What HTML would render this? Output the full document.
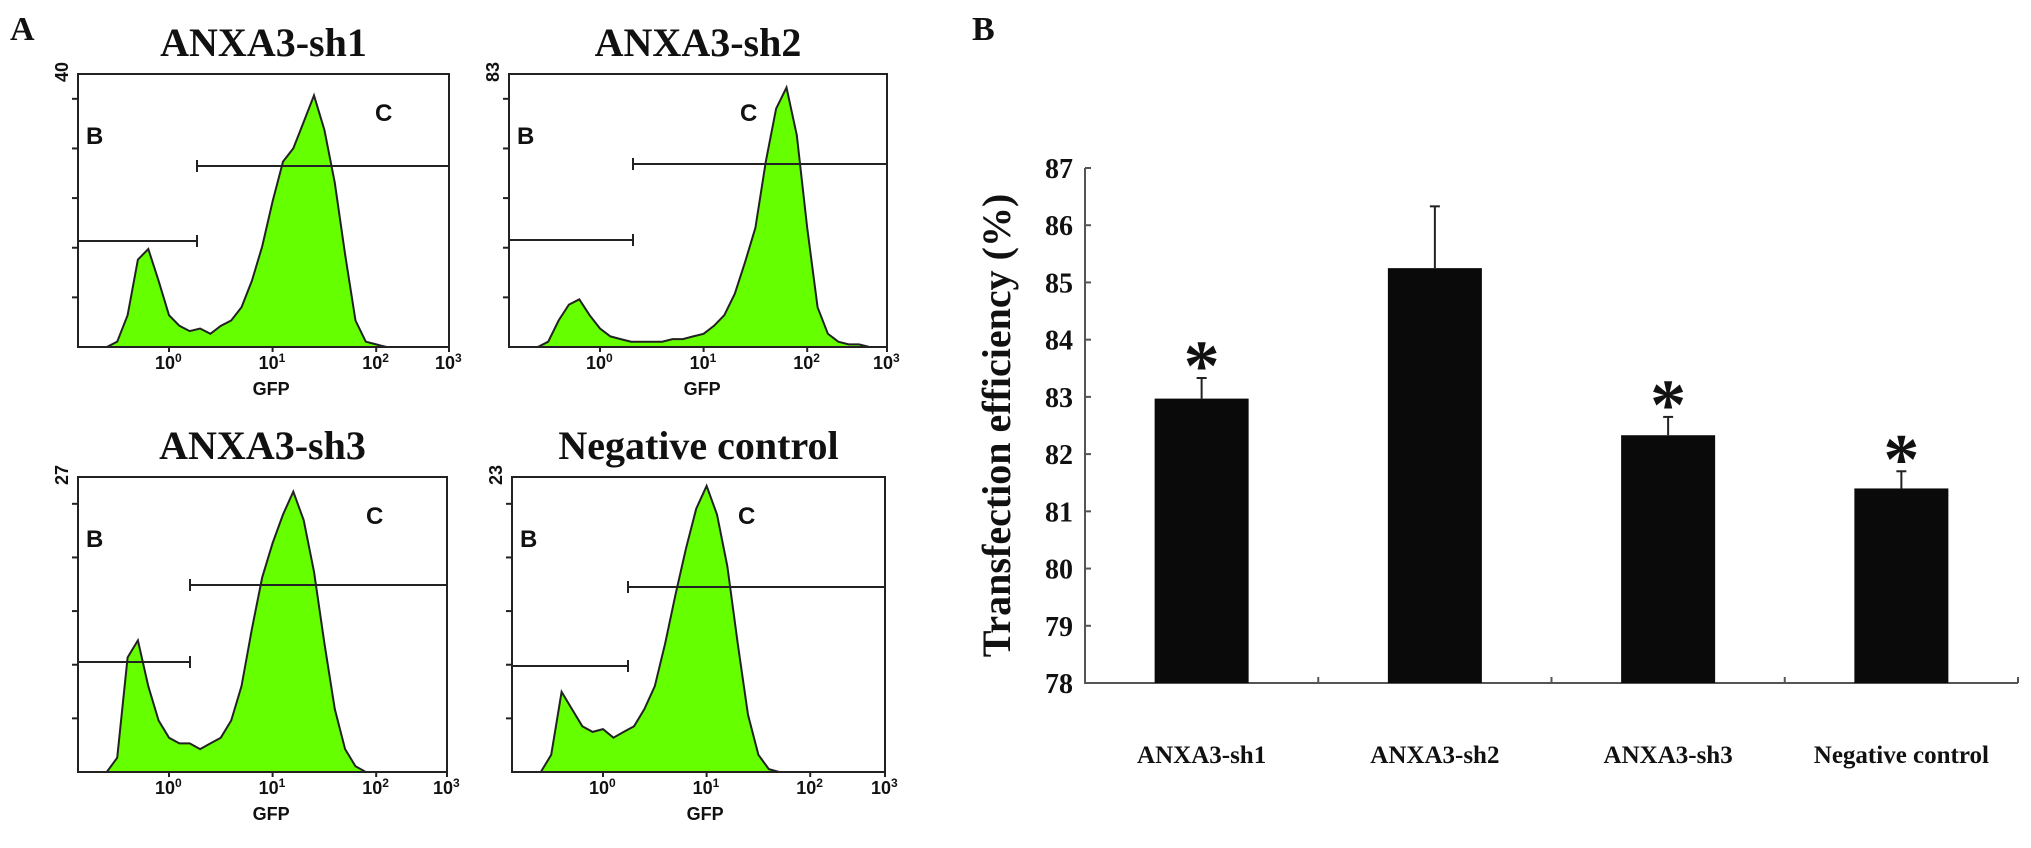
<!DOCTYPE html>
<html><head><meta charset="utf-8"><style>
html,body{margin:0;padding:0;background:#fff;}
svg{display:block;}
text{font-family:"Liberation Serif",serif;font-weight:bold;fill:#111;}
.sans{font-family:"Liberation Sans",sans-serif;}
</style></head><body>
<svg id="fig" width="2031" height="848" viewBox="0 0 2031 848" xmlns="http://www.w3.org/2000/svg">
<text x="10" y="40" font-size="34">A</text>
<text x="972" y="40" font-size="34">B</text>
<g id="histos"></g>
<g id="bars"></g>
</svg>
<script>
// ---------- Panel A data (decade -0.6..2.7, step 0.1), relative counts ----------
const decades = [-0.6,-0.5,-0.4,-0.3,-0.2,-0.1,0,0.1,0.2,0.3,0.4,0.5,0.6,0.7,0.8,0.9,1.0,1.1,1.2,1.3,1.4,1.5,1.6,1.7,1.8,1.9,2.0,2.1,2.2,2.3,2.4,2.5,2.6,2.7];
const histSh1 = [0,0.02,0.12,0.33,0.37,0.25,0.12,0.08,0.06,0.07,0.05,0.08,0.1,0.15,0.25,0.38,0.55,0.7,0.75,0.85,0.95,0.82,0.62,0.35,0.1,0.02,0.01,0,0,0,0,0,0,0];
const histSh2 = [0,0.02,0.1,0.16,0.18,0.12,0.07,0.04,0.03,0.02,0.02,0.02,0.02,0.03,0.03,0.04,0.05,0.08,0.12,0.2,0.32,0.45,0.7,0.9,0.98,0.8,0.45,0.15,0.05,0.02,0.01,0.01,0,0];
const histSh3 = [0,0.05,0.4,0.46,0.3,0.18,0.12,0.1,0.1,0.08,0.1,0.12,0.18,0.3,0.5,0.68,0.8,0.9,0.98,0.88,0.7,0.45,0.22,0.08,0.02,0,0,0,0,0,0,0,0,0];
const histNC  = [0,0.06,0.28,0.22,0.16,0.14,0.15,0.12,0.14,0.16,0.22,0.3,0.45,0.62,0.78,0.92,1.0,0.9,0.72,0.45,0.2,0.06,0.01,0,0,0,0,0,0,0,0,0,0,0];
const histTitles = ["ANXA3-sh1","ANXA3-sh2","ANXA3-sh3","Negative control"];
const histYMax = ["40","83","27","23"];
const xTickDecades = [0,1,2];

const NS="http://www.w3.org/2000/svg";
function mk(tag,attrs,parent){const e=document.createElementNS(NS,tag);for(const k in attrs)e.setAttribute(k,attrs[k]);parent.appendChild(e);return e;}

const panels=[
 {x0:78,x1:449,y0:74,y1:347,data:histSh1,bY:241,cY:166,gate:197,cx:375},
 {x0:509,x1:887,y0:74,y1:347,data:histSh2,bY:240,cY:164,gate:633,cx:740},
 {x0:78,x1:447,y0:477,y1:772,data:histSh3,bY:662,cY:585,gate:190,cx:366},
 {x0:512,x1:885,y0:477,y1:772,data:histNC,bY:666,cY:587,gate:628,cx:738}
];
const hg=document.getElementById('histos');
panels.forEach((p,i)=>{
  const g=mk('g',{},hg);
  
  
  const dw=103.6;
  const xs=d=>p.x0+91+d*dw;
  const ys=v=>p.y1-v*(p.y1-p.y0)*0.97;
  let dstr='M'+p.x0+','+p.y1;
  p.data.forEach((v,k)=>{const xx=Math.max(p.x0,Math.min(p.x1,xs(decades[k])));dstr+=' L'+xx.toFixed(1)+','+ys(v).toFixed(1);});
  dstr+=' L'+p.x1+','+p.y1+' Z';
  const path=mk('path',{d:dstr,fill:'#66ff00',stroke:'#222','stroke-width':2},g);
  
  
  const box=mk('rect',{x:p.x0,y:p.y0,width:p.x1-p.x0,height:p.y1-p.y0,fill:'none',stroke:'#222','stroke-width':2},g);
  
  
  for(let t=1;t<=5;t++){const yy=p.y1-t*(p.y1-p.y0)/5.5;mk('line',{x1:p.x0-6,x2:p.x0,y1:yy,y2:yy,stroke:'#222','stroke-width':2},g);}
  const gb=mk('line',{x1:p.x0,x2:p.gate,y1:p.bY,y2:p.bY,stroke:'#222','stroke-width':2},g);
  
  
  mk('line',{x1:p.gate,x2:p.gate,y1:p.bY-6,y2:p.bY+6,stroke:'#222','stroke-width':2},g);
  const gc=mk('line',{x1:p.gate,x2:p.x1,y1:p.cY,y2:p.cY,stroke:'#222','stroke-width':2},g);
  
  
  mk('line',{x1:p.gate,x2:p.gate,y1:p.cY-6,y2:p.cY+6,stroke:'#222','stroke-width':2},g);
  const tb=mk('text',{x:p.x0+8,y:p.y0+70,'font-size':24,'class':'sans'},g);tb.textContent='B';
  
  
  const tc=mk('text',{x:p.cx,y:p.y0+47,'font-size':24,'class':'sans'},g);tc.textContent='C';
  
  
  const tickX=xTickDecades.map(d=>xs(d)).concat([p.x1]);
  tickX.forEach((xx,k)=>{
    mk('line',{x1:xx,x2:xx,y1:p.y1,y2:p.y1+5,stroke:'#222','stroke-width':2},g);
    const tl=mk('text',{x:xx-14,y:p.y1+22,'font-size':18,'class':'sans'},g);
    tl.innerHTML='10<tspan font-size="12" dy="-7">'+k+'</tspan>';
    
    
  });
  const gl=mk('text',{x:xs(1)-20,y:p.y1+48,'font-size':18,'class':'sans'},g);gl.textContent='GFP';
  
  
  const ym=mk('text',{x:0,y:0,'font-size':18,'class':'sans','transform':'translate('+(p.x0-10)+','+(p.y0-2)+') rotate(-90)','text-anchor':'middle'},g);ym.textContent=histYMax[i];
  
  
  const tt=mk('text',{x:(p.x0+p.x1)/2,y:p.y0-18,'font-size':40,'text-anchor':'middle'},g);tt.textContent=histTitles[i];
  
  
});

// ---------- Panel B data ----------
const categories = ["ANXA3-sh1","ANXA3-sh2","ANXA3-sh3","Negative control"];
const means = [82.97,85.25,82.33,81.4];
const errors = [0.36,1.08,0.32,0.3];
const significant = [true,false,true,true];
const yTicks = [78,79,80,81,82,83,84,85,86,87];

const bg=document.getElementById('bars');
const AX0=1085, AX1=2018, AY0=683, AY1=168, YMIN=78, YMAX=87;
const yScale=v=>AY0-(v-YMIN)/(YMAX-YMIN)*(AY0-AY1);
const band=(AX1-AX0)/categories.length;
const xCenter=i=>AX0+band*(i+0.5);
const bw=94;
const ax=mk('path',{d:'M'+AX0+','+AY1+' L'+AX0+','+AY0+' L'+AX1+','+AY0,fill:'none',stroke:'#555','stroke-width':2},bg);


yTicks.forEach(t=>{
  const yy=yScale(t);
  mk('line',{x1:AX0,x2:AX0+6,y1:yy,y2:yy,stroke:'#555','stroke-width':2},bg);
  const tl=mk('text',{x:AX0-12,y:yy+10,'font-size':28,'text-anchor':'end'},bg);tl.textContent=t;
  
  
});
for(let i=1;i<=categories.length;i++){const xx=AX0+band*i;mk('line',{x1:xx,x2:xx,y1:AY0,y2:AY0-6,stroke:'#555','stroke-width':2},bg);}
categories.forEach((c,i)=>{
  const cx=xCenter(i);
  const top=yScale(means[i]);
  const r=mk('rect',{x:cx-bw/2,y:top,width:bw,height:AY0-top,fill:'#0a0a0a'},bg);
  
  
  const et=yScale(means[i]+errors[i]);
  const el=mk('line',{x1:cx,x2:cx,y1:top,y2:et,stroke:'#222','stroke-width':2},bg);
  
  
  mk('line',{x1:cx-5,x2:cx+5,y1:et,y2:et,stroke:'#222','stroke-width':2},bg);
  if(significant[i]){
    const s=mk('text',{x:cx,y:et+12,'font-size':72,'text-anchor':'middle'},bg);s.textContent='*';
    
    
  }
  const lb=mk('text',{x:cx,y:AY0+80,'font-size':25,'text-anchor':'middle'},bg);lb.textContent=c;
  
  
});
const yt=mk('text',{x:0,y:0,'font-size':40,'text-anchor':'middle','transform':'translate(1010,'+((AY0+AY1)/2)+') rotate(-90)'},bg);
yt.textContent='Transfection efficiency (%)';


</script>
</body></html>
